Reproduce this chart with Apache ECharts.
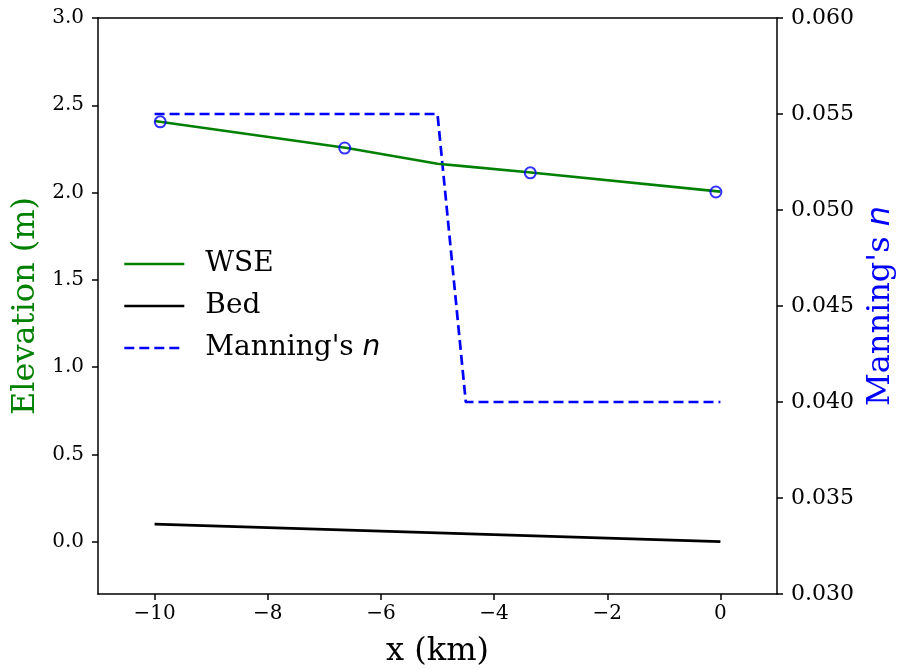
<!DOCTYPE html>
<html>
<head>
<meta charset="utf-8">
<script src="https://cdn.jsdelivr.net/npm/echarts@6/dist/echarts.min.js"></script>
<style>
  html, body { margin: 0; padding: 0; background: #fff; }
  #chart { width: 901px; height: 669px; }
</style>
</head>
<body>
<div id="chart"></div>
<script>
// water surface elevation along the reach (km, m)
var wseX = [-10, -6.6, -5, -4.5, -3.35, 0];
var wseY = [2.41, 2.255, 2.165, 2.15, 2.115, 2.005];
// observed points
var obsX = [-9.9, -6.64, -3.36, -0.08];
var obsY = [2.405, 2.255, 2.113, 2.003];
// bed profile
var bedX = [-10, 0];
var bedY = [0.1, 0.0];
// manning's n
var nX = [-10, -5, -4.5, 0];
var nY = [0.055, 0.055, 0.040, 0.040];

var xTicks = [-10, -8, -6, -4, -2, 0];
var leftTicks = [0, 0.5, 1, 1.5, 2, 2.5, 3];

function pairs(xs, ys) {
	var out = [];
	xs.forEach(function(x, i){
		out.push([x, ys[i]]);
	});
	return out;
}

var serif = 'DejaVu Serif';
var chart = echarts.init(document.getElementById('chart'));

var option = {
	animation: false,
	grid: { left: 98, right: 124, top: 18, bottom: 75, containLabel: false, outerBoundsMode: 'none' },
	legend: {
		orient: 'vertical',
		left: 118,
		top: 245,
		itemWidth: 60,
		itemHeight: 14,
		itemGap: 14,
		data: ['WSE', 'Bed', "Manning's n"],
		itemStyle: { opacity: 0 },
		lineStyle: { width: 2.6 },
		formatter: function(name){
			if (name == "Manning's n") return "Manning's {i|n}";
			return name;
		},
		textStyle: {
			fontFamily: serif,
			fontSize: 28,
			color: '#000',
			padding: [0, 0, 0, 16],
			rich: {
				i: { fontFamily: 'DejaVu Sans', fontStyle: 'italic', fontSize: 28, color: '#000' }
			}
		}
	},
	xAxis: [{
		type: 'value',
		min: -11,
		max: 1,
		name: 'x (km)',
		nameLocation: 'middle',
		nameGap: 42,
		nameTextStyle: { fontFamily: serif, fontSize: 32, color: '#000' },
		splitLine: { show: false },
		axisLine: { show: true, onZero: false, lineStyle: { color: '#000', width: 1.5 } },
		axisTick: { show: true, length: 6, customValues: xTicks, lineStyle: { color: '#000', width: 1.5 } },
		axisLabel: {
			customValues: xTicks,
			margin: 10,
			fontFamily: serif,
			fontSize: 20,
			color: '#000',
			formatter: function(v){ return String(v).replace('-', '\u2212'); }
		}
	}, {
		type: 'value',
		position: 'top',
		min: -11,
		max: 1,
		splitLine: { show: false },
		axisLine: { show: true, onZero: false, lineStyle: { color: '#000', width: 1.5 } },
		axisTick: { show: false },
		axisLabel: { show: false }
	}],
	yAxis: [{
		type: 'value',
		min: -0.3,
		max: 3.0,
		name: 'Elevation (m)',
		nameLocation: 'middle',
		nameGap: 56,
		nameRotate: 90,
		nameTextStyle: { fontFamily: serif, fontSize: 32, color: 'green' },
		splitLine: { show: false },
		axisLine: { show: true, onZero: false, lineStyle: { color: '#000', width: 1.5 } },
		axisTick: { show: true, length: 6, customValues: leftTicks, lineStyle: { color: '#000', width: 1.5 } },
		axisLabel: {
			customValues: leftTicks,
			margin: 14,
			fontFamily: serif,
			fontSize: 20,
			color: '#000',
			formatter: function(v){ return v.toFixed(1); }
		}
	}, {
		type: 'value',
		position: 'right',
		min: 0.030,
		max: 0.060,
		interval: 0.005,
		name: "Manning's {i|n}",
		nameLocation: 'middle',
		nameGap: 88,
		nameRotate: 90,
		nameTextStyle: {
			fontFamily: serif,
			fontSize: 32,
			color: 'blue',
			rich: {
				i: { fontFamily: 'DejaVu Sans', fontStyle: 'italic', fontSize: 32, color: 'blue' }
			}
		},
		splitLine: { show: false },
		axisLine: { show: true, onZero: false, lineStyle: { color: '#000', width: 1.5 } },
		axisTick: { show: true, length: 6, lineStyle: { color: '#000', width: 1.5 } },
		axisLabel: {
			margin: 14,
			fontFamily: serif,
			fontSize: 22,
			color: '#000',
			formatter: function(v){ return v.toFixed(3); }
		}
	}],
	series: [{
		name: 'WSE',
		type: 'line',
		data: pairs(wseX, wseY),
		symbol: 'none',
		lineStyle: { color: 'green', width: 2.7 },
		itemStyle: { color: 'green' },
		z: 3
	}, {
		name: 'Bed',
		type: 'line',
		data: pairs(bedX, bedY),
		symbol: 'none',
		lineStyle: { color: '#000', width: 2.7 },
		itemStyle: { color: '#000' },
		z: 3
	}, {
		name: "Manning's n",
		type: 'line',
		yAxisIndex: 1,
		data: pairs(nX, nY),
		symbol: 'none',
		lineStyle: { color: 'blue', width: 2.7, type: [10, 5] },
		itemStyle: { color: 'blue' },
		z: 2
	}, {
		name: 'obs',
		type: 'scatter',
		data: pairs(obsX, obsY),
		symbol: 'circle',
		symbolSize: 11,
		itemStyle: { color: 'rgba(0,0,0,0)', borderColor: 'blue', borderWidth: 2 },
		z: 4
	}]
};

chart.setOption(option);
</script>
</body>
</html>
